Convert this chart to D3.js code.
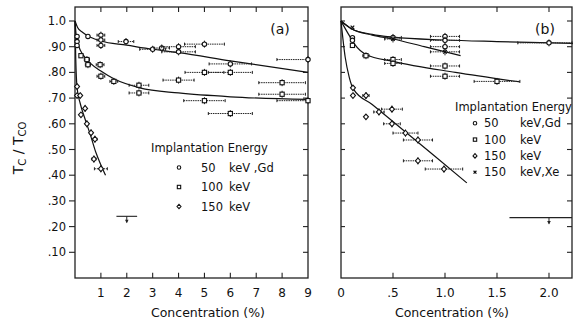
<!DOCTYPE html>
<html>
<head>
<meta charset="utf-8">
<script src="https://cdn.jsdelivr.net/npm/d3@7"></script>
<style>
  body { margin: 0; background: #fff; }
  svg { display: block; }
  text { font-family: "DejaVu Sans", sans-serif; fill: #111; }
</style>
</head>
<body>
<div id="chart"></div>
<script>
// ---- data ----
// points are [concentration %, Tc/Tco, x error]
const yTicks = [0.1, 0.2, 0.3, 0.4, 0.5, 0.6, 0.7, 0.8, 0.9, 1.0];
const yTickLabels = [".10", ".20", ".30", ".40", ".50", ".60", ".70", ".80", ".90", "1.0"];

const aTicks = [1, 2, 3, 4, 5, 6, 7, 8, 9];
const aTickLabels = ["1", "2", "3", "4", "5", "6", "7", "8", "9"];
const bTicks = [0, 0.5, 1.0, 1.5, 2.0];
const bTickLabels = ["0", ".5", "1.0", "1.5", "2.0"];

// panel (a)
const a50 = [[0.08, 0.94, 0], [0.08, 0.92, 0], [0.08, 0.905, 0], [0.5, 0.94, 0],
  [1, 0.945, 0.15], [1, 0.926, 0.15], [1, 0.905, 0.15], [1.97, 0.92, 0.3],
  [3, 0.89, 0.5], [3.35, 0.895, 0.3], [4, 0.90, 0.65], [4, 0.88, 0.65],
  [5, 0.91, 0.77], [6, 0.833, 0.82], [9, 0.85, 1.2]];
const a100 = [[0.23, 0.865, 0], [0.46, 0.85, 0.1], [0.5, 0.83, 0.1], [0.97, 0.83, 0.15],
  [1, 0.785, 0.15], [1.5, 0.765, 0.15], [2.47, 0.75, 0.38], [2.47, 0.72, 0.38],
  [4, 0.77, 0.6], [5, 0.80, 0.75], [6, 0.80, 0.85], [8, 0.76, 0.9], [8, 0.715, 0.9],
  [9, 0.69, 1.2], [5, 0.69, 0.8], [6, 0.64, 0.85]];
const a150 = [[0.08, 0.745, 0], [0.08, 0.71, 0], [0.2, 0.71, 0], [0.39, 0.66, 0.05],
  [0.23, 0.635, 0], [0.46, 0.60, 0.05], [0.62, 0.565, 0.06], [0.77, 0.54, 0.08],
  [0.73, 0.463, 0.08], [1.0, 0.425, 0.25]];
const aLimit = [[2.0, 0.24, 0.4]];

const aFit50 = [[0, 1.0], [0.1, 0.975], [0.3, 0.955], [0.6, 0.937], [1, 0.922], [2, 0.906],
  [3, 0.89], [4, 0.877], [6, 0.845], [9, 0.80]];
const aFit100 = [[0, 1.0], [0.05, 0.94], [0.15, 0.9], [0.3, 0.87], [0.6, 0.835], [1, 0.805],
  [1.5, 0.775], [2.5, 0.74], [4, 0.72], [6, 0.705], [9, 0.695]];
const aFit150 = [[0, 1.0], [0.03, 0.85], [0.08, 0.74], [0.2, 0.68], [0.4, 0.615], [0.6, 0.555],
  [0.8, 0.49], [1.0, 0.44], [1.18, 0.40]];

// panel (b)
const b50 = [[0.11, 0.935, 0], [0.11, 0.925, 0], [0.5, 0.936, 0.08], [1.0, 0.94, 0.14],
  [1.0, 0.925, 0.14], [1.0, 0.90, 0.14], [2.0, 0.915, 0.3]];
const bXe = [[0.11, 0.975, 0], [0.5, 0.93, 0.08], [1.0, 0.88, 0.14]];
const b100 = [[0.11, 0.905, 0], [0.24, 0.865, 0.03], [0.5, 0.85, 0.08], [0.5, 0.835, 0.08],
  [1.0, 0.825, 0.14], [1.0, 0.785, 0.14], [1.5, 0.765, 0.22]];
const b150 = [[0.115, 0.74, 0], [0.115, 0.71, 0], [0.24, 0.71, 0.03], [0.24, 0.627, 0],
  [0.365, 0.646, 0.05], [0.49, 0.657, 0.1], [0.49, 0.60, 0.08], [0.62, 0.564, 0.12],
  [0.74, 0.537, 0.14], [0.74, 0.456, 0.14], [0.99, 0.424, 0.18]];
const bLimit = [[2.0, 0.235, 0.38]];

const bFit50 = [[0, 1.0], [0.1, 0.97], [0.3, 0.948], [0.5, 0.937], [1, 0.926], [1.5, 0.92], [2.23, 0.913]];
const bFitXe = [[0, 1.0], [0.1, 0.97], [0.3, 0.945], [0.5, 0.93], [0.8, 0.9], [1.15, 0.865]];
const bFit100 = [[0, 1.0], [0.07, 0.95], [0.13, 0.91], [0.24, 0.87], [0.5, 0.843], [1.1, 0.80], [1.72, 0.763]];
const bFit150 = [[0, 1.0], [0.04, 0.86], [0.08, 0.78], [0.12, 0.735], [0.3, 0.675], [0.6, 0.575], [0.9, 0.475], [1.21, 0.37]];

const legendA = ["50", "100", "150"];
const legendAUnits = ["keV ,Gd", "keV", "keV"];
const legendB = ["50", "100", "150", "150"];
const legendBUnits = ["keV,Gd", "keV", "keV", "keV,Xe"];

// ---- drawing ----
const W = 573, H = 324;
const svg = d3.select("#chart").append("svg").attr("width", W).attr("height", H);

const yScale = d3.scaleLinear().domain([0, 1.0]).range([278, 21]);

function symbol(g, kind, x, y, s = 1) {
  if (kind === "circle") {
    g.append("circle").attr("cx", x).attr("cy", y).attr("r", 2.2 * s)
      .attr("fill", "#fff").attr("stroke", "#111").attr("stroke-width", 1.1);
  } else if (kind === "square") {
    g.append("rect").attr("x", x - 2.1 * s).attr("y", y - 2.1 * s).attr("width", 4.2 * s).attr("height", 4.2 * s)
      .attr("fill", "#fff").attr("stroke", "#111").attr("stroke-width", 1.1);
  } else if (kind === "diamond") {
    g.append("path").attr("d", `M${x},${y - 2.8 * s}L${x + 2.5 * s},${y}L${x},${y + 2.8 * s}L${x - 2.5 * s},${y}Z`)
      .attr("fill", "#fff").attr("stroke", "#111").attr("stroke-width", 1.1);
  } else if (kind === "cross") {
    g.append("path").attr("d", `M${x - 1.8 * s},${y - 1.8 * s}L${x + 1.8 * s},${y + 1.8 * s}M${x + 1.8 * s},${y - 1.8 * s}L${x - 1.8 * s},${y + 1.8 * s}`)
      .attr("stroke", "#111").attr("stroke-width", 1.2);
  }
}

function drawPanel(p) {
  const x = d3.scaleLinear().domain(p.xDomain).range(p.xRange);
  const g = svg.append("g");
  const [x0, x1] = p.xRange;
  const [yb, yt] = [yScale(0), 7];

  // frame
  g.append("rect").attr("x", x0).attr("y", yt).attr("width", x1 - x0).attr("height", yb - yt)
    .attr("fill", "none").attr("stroke", "#222").attr("stroke-width", 1.3);

  const line = d3.line().x(d => x(d[0])).y(d => yScale(d[1]));

  // ticks along the x sides
  p.xTicks.forEach(t => {
    const px = x(t);
    if (px <= x0 + 1 || px >= x1 - 1) return;
    g.append("path").attr("d", line([[t, 0], [t, 0.02]])).attr("stroke", "#222").attr("stroke-width", 1.1);
    g.append("line").attr("x1", px).attr("x2", px).attr("y1", yt).attr("y2", yt + 5)
      .attr("stroke", "#222").attr("stroke-width", 1.1);
  });
  p.xTicks.forEach((t, i) => {
    g.append("text").attr("x", x(t)).attr("y", 297).attr("text-anchor", "middle")
      .attr("font-size", 12).text(p.xTickLabels[i]);
  });

  // ticks along the y sides
  yTicks.forEach(t => {
    const py = yScale(t);
    g.append("line").attr("x1", x1).attr("x2", x1 - 5).attr("y1", py).attr("y2", py)
      .attr("stroke", "#222").attr("stroke-width", 1.1);
    if (p.outerLeftTicks) {
      g.append("line").attr("x1", x0).attr("x2", x0 - 6).attr("y1", py).attr("y2", py)
        .attr("stroke", "#222").attr("stroke-width", 1.1);
    } else {
      g.append("line").attr("x1", x0).attr("x2", x0 + 4).attr("y1", py).attr("y2", py)
        .attr("stroke", "#222").attr("stroke-width", 1.1);
    }
  });

  // fitted curves
  p.fits.forEach(f => {
    g.append("path").datum(f)
      .attr("d", d3.line().x(d => x(d[0])).y(d => yScale(d[1])).curve(d3.curveMonotoneX))
      .attr("fill", "none").attr("stroke", "#111").attr("stroke-width", 1.2);
  });

  // error bars + points
  p.series.forEach(s => {
    s.data.forEach(d => {
      const px = x(d[0]), py = yScale(d[1]);
      if (d[2] > 0) {
        const xl = Math.max(x(d[0] - d[2]), x0), xr = Math.min(x(d[0] + d[2]), x1);
        g.append("line").attr("x1", xl).attr("x2", xr).attr("y1", py).attr("y2", py)
          .attr("stroke", "#222").attr("stroke-width", 1).attr("stroke-dasharray", "1.5,0.8");
        [xl, xr].forEach(cx => g.append("line").attr("x1", cx).attr("x2", cx)
          .attr("y1", py - 1.5).attr("y2", py + 1.5).attr("stroke", "#222").attr("stroke-width", 1));
        g.append("line").attr("x1", px).attr("x2", px).attr("y1", py - 3.5).attr("y2", py + 3.5)
          .attr("stroke", "#222").attr("stroke-width", 1);
      }
      symbol(g, s.kind, px, py);
    });
  });

  // upper limit markers
  p.limits.forEach(d => {
    const py = yScale(d[1]);
    const xl = x(d[0] - d[2]), xr = Math.min(x(d[0] + d[2]), x1);
    g.append("line").attr("x1", xl).attr("x2", xr).attr("y1", py).attr("y2", py)
      .attr("stroke", "#222").attr("stroke-width", 1.1);
    const px = x(d[0]);
    g.append("line").attr("x1", px).attr("x2", px).attr("y1", py).attr("y2", py + 6)
      .attr("stroke", "#222").attr("stroke-width", 1);
    g.append("path").attr("d", `M${px - 1.8},${py + 3.5}L${px + 1.8},${py + 3.5}L${px},${py + 7}Z`)
      .attr("fill", "#222");
  });

  // panel letter
  g.append("text").attr("x", p.letterX).attr("y", 34).attr("text-anchor", "middle")
    .attr("font-size", 14).text(p.letter);

  // x label
  g.append("text").attr("x", p.labelX).attr("y", 317).attr("text-anchor", "middle")
    .attr("font-size", 12.5).text("Concentration (%)");

  // legend
  const lg = p.legend;
  g.append("text").attr("x", lg.x).attr("y", lg.y).attr("font-size", 11.5).text("Implantation Energy");
  lg.labels.forEach((lab, i) => {
    const yy = lg.y + lg.dy * (i + 1);
    symbol(g, lg.kinds[i], lg.symX, yy - 4, 0.8);
    g.append("text").attr("x", lg.numX).attr("y", yy).attr("font-size", 11.5).text(lab);
    g.append("text").attr("x", lg.unitX).attr("y", yy).attr("font-size", 11.5).text(lg.units[i]);
  });
}

drawPanel({
  xDomain: [0, 9], xRange: [75, 308], xTicks: aTicks, xTickLabels: aTickLabels,
  outerLeftTicks: true,
  fits: [aFit50, aFit100, aFit150],
  series: [{ kind: "circle", data: a50 }, { kind: "square", data: a100 }, { kind: "diamond", data: a150 }],
  limits: aLimit,
  letter: "(a)", letterX: 280, labelX: 208,
  legend: { x: 151, y: 152, dy: 19.5, symX: 179, numX: 201, unitX: 229,
    labels: legendA, units: legendAUnits, kinds: ["circle", "square", "diamond"] }
});

drawPanel({
  xDomain: [0, 2.2212], xRange: [341, 572], xTicks: bTicks, xTickLabels: bTickLabels,
  outerLeftTicks: false,
  fits: [bFit50, bFitXe, bFit100, bFit150],
  series: [{ kind: "circle", data: b50 }, { kind: "cross", data: bXe }, { kind: "square", data: b100 }, { kind: "diamond", data: b150 }],
  limits: bLimit,
  letter: "(b)", letterX: 545, labelX: 452,
  legend: { x: 455, y: 111, dy: 16.3, symX: 475, numX: 484, unitX: 520,
    labels: legendB, units: legendBUnits, kinds: ["circle", "square", "diamond", "cross"] }
});

// y tick labels (panel a only) and shared y label
const yl = svg.append("g");
yTicks.forEach((t, i) => {
  yl.append("text").attr("x", 66).attr("y", yScale(t) + 4).attr("text-anchor", "end")
    .attr("font-size", 11.5).text(yTickLabels[i]);
});
const yt = yl.append("text").attr("transform", "translate(23,148) rotate(-90)")
  .attr("text-anchor", "middle").attr("font-size", 14);
yt.append("tspan").text("T");
yt.append("tspan").attr("font-size", 10).attr("dy", 3).text("C");
yt.append("tspan").attr("dy", -3).text(" / T");
yt.append("tspan").attr("font-size", 10).attr("dy", 3).text("CO");
</script>
</body>
</html>
